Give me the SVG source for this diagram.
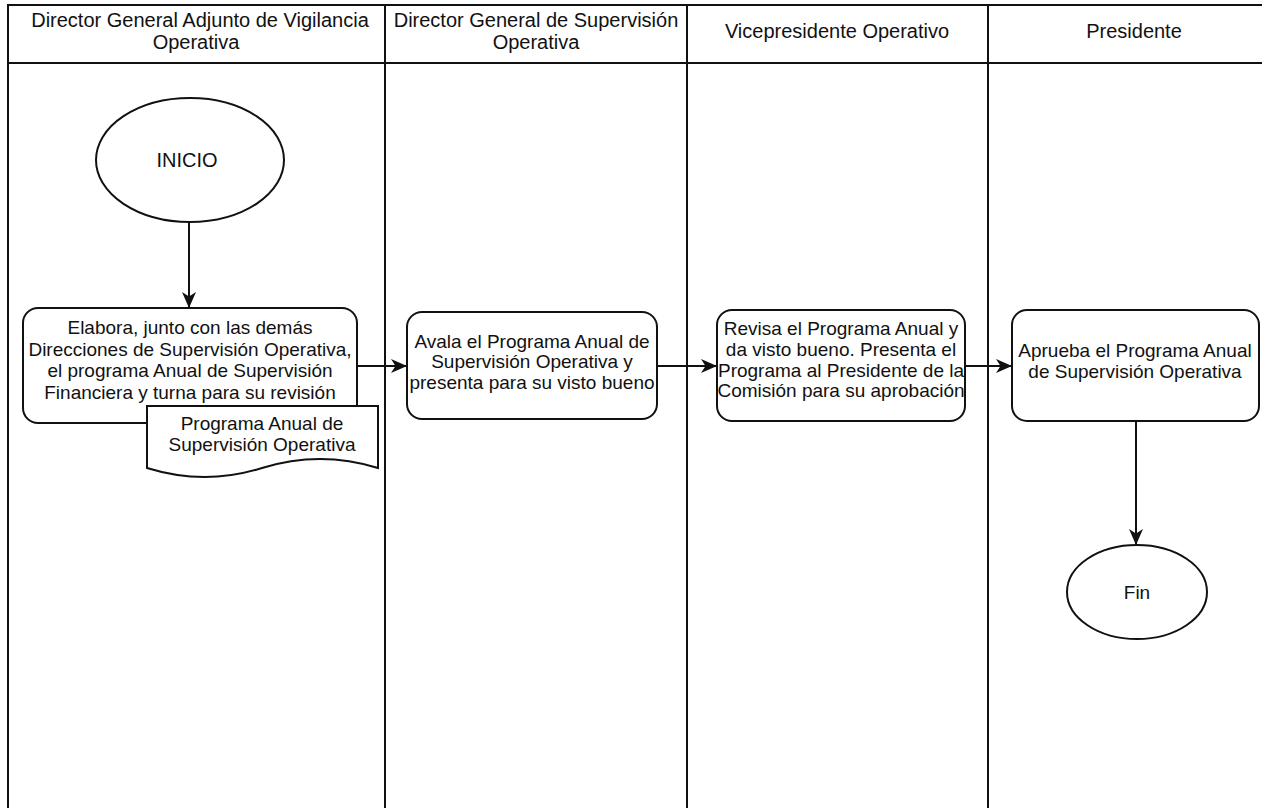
<svg xmlns="http://www.w3.org/2000/svg" width="1262" height="808" viewBox="0 0 1262 808">
<style>
text{font-family:"Liberation Sans",Arial,sans-serif;font-size:19px;fill:#111;text-anchor:middle;dominant-baseline:central}
text.h{font-size:20px}
.frame{fill:none;stroke:#111;stroke-width:2}
.shape{fill:#fff;stroke:#111;stroke-width:2}
.conn{fill:none;stroke:#111;stroke-width:2}
</style>
<defs>
<marker id="arr" markerWidth="16" markerHeight="14" viewBox="0 0 16 14" refX="15" refY="7" orient="auto" markerUnits="userSpaceOnUse">
<path d="M0,0 L16,7 L0,14 L4.5,7 Z" fill="#111"/>
</marker>
</defs>
<rect width="1262" height="808" fill="#fff"/>
<g id="pool">
<path class="frame" d="M8,808 V5 H1264 M8,63 H1264 M385,5 V808 M687,5 V808 M988,5 V808"/>
<text class="h" x="200" y="20">Director General Adjunto de Vigilancia</text>
<text class="h" x="196" y="42">Operativa</text>
<text class="h" x="536" y="20">Director General de Supervisión</text>
<text class="h" x="536" y="42">Operativa</text>
<text class="h" x="837" y="31">Vicepresidente Operativo</text>
<text class="h" x="1134" y="31">Presidente</text>
</g>
<g id="connectors">
<path class="conn" d="M189,222 V307" marker-end="url(#arr)"/>
<path class="conn" d="M357,366 H406" marker-end="url(#arr)"/>
<path class="conn" d="M657,366 H716" marker-end="url(#arr)"/>
<path class="conn" d="M965,366 H1011" marker-end="url(#arr)"/>
<path class="conn" d="M1136,421 V544" marker-end="url(#arr)"/>
</g>
<g id="inicio">
<ellipse class="shape" cx="190" cy="160" rx="94" ry="62"/>
<text class="h" x="187" y="160">INICIO</text>
</g>
<g id="elabora">
<rect class="shape" x="23" y="308" width="334" height="115" rx="15"/>
<text x="190" y="327">Elabora, junto con las demás</text>
<text x="190" y="349">Direcciones de Supervisión Operativa,</text>
<text x="190" y="370">el programa Anual de Supervisión</text>
<text x="190" y="392">Financiera y turna para su revisión</text>
</g>
<g id="documento">
<path class="shape" d="M147,406 H378 V468 Q320,450 262,468 Q205,486 147,468 Z"/>
<text x="262" y="423">Programa Anual de</text>
<text x="262" y="444">Supervisión Operativa</text>
</g>
<g id="avala">
<rect class="shape" x="407" y="312" width="250" height="107" rx="15"/>
<text x="532" y="341">Avala el Programa Anual de</text>
<text x="532" y="361">Supervisión Operativa y</text>
<text x="532" y="382">presenta para su visto bueno</text>
</g>
<g id="revisa">
<rect class="shape" x="717" y="310" width="248" height="111" rx="15"/>
<text x="841" y="328">Revisa el Programa Anual y</text>
<text x="841" y="349">da visto bueno. Presenta el</text>
<text x="841" y="370">Programa al Presidente de la</text>
<text x="841" y="390">Comisión para su aprobación</text>
</g>
<g id="aprueba">
<rect class="shape" x="1012" y="310" width="247" height="111" rx="15"/>
<text x="1135" y="350">Aprueba el Programa Anual</text>
<text x="1135" y="371">de Supervisión Operativa</text>
</g>
<g id="fin">
<ellipse class="shape" cx="1137" cy="592" rx="70" ry="47"/>
<text x="1137" y="592">Fin</text>
</g>
</svg>
